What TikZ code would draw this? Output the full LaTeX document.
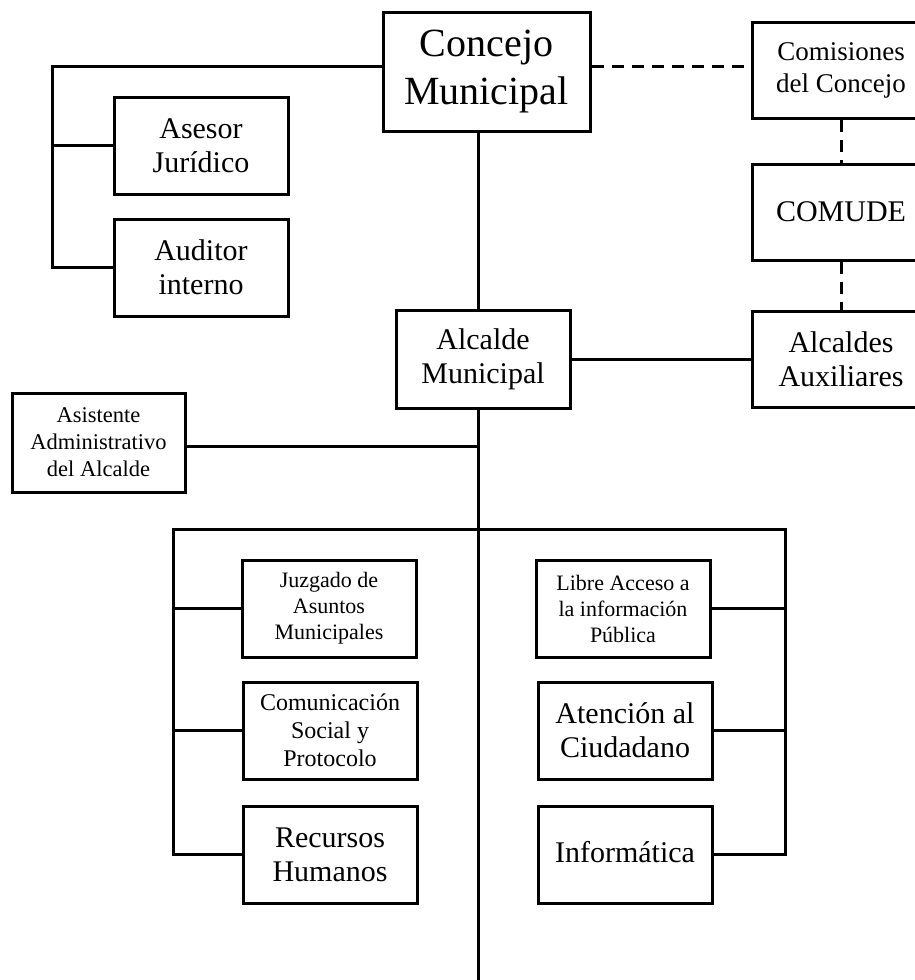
\documentclass[tikz,border=0pt]{standalone}
\usepackage{fontspec}
\setmainfont{Liberation Serif}
\usetikzlibrary{positioning}
\tikzset{orgBox/.style={draw, line width=3pt, fill=white, align=center, inner sep=0pt, minimum width=174pt, minimum height=97pt}}
\tikzset{orgLine/.style={line width=3pt}}
\tikzset{dashLine/.style={line width=3pt, dash pattern=on 12pt off 8pt}}
\tikzset{bigText/.style={font=\fontsize{40}{48}\selectfont}}
\tikzset{midText/.style={font=\fontsize{30}{34}\selectfont}}
\tikzset{smallText/.style={font=\fontsize{24}{28}\selectfont}}
\tikzset{tinyText/.style={font=\fontsize{22}{26}\selectfont}}

\begin{document}
\begin{tikzpicture}[x=1pt, y=-1pt]
\useasboundingbox (0,0) rectangle (915,980);

% Concejo and its advisers
\node[orgBox, bigText, minimum width=207pt, minimum height=119pt] (concejo) at (486.5,71.5) {Concejo\\Municipal};
\node[orgBox, midText] (asesor) at (201,145.5) {Asesor\\Jurídico};
\node[orgBox, midText, below=22pt of asesor] (auditor) {Auditor\\interno};

% Right column
\node[orgBox, font=\fontsize{27}{32}\selectfont, minimum width=178pt, minimum height=96pt] (comisiones) at (841,70) {Comisiones\\del Concejo};
\node[orgBox, midText, minimum width=178pt, minimum height=96pt] (comude) at (841,212) {COMUDE};
\node[orgBox, midText, minimum width=178pt, minimum height=96pt] (auxiliares) at (841,359) {Alcaldes\\Auxiliares};

% Alcalde
\node[orgBox, midText, minimum height=98pt] (alcalde) at (483,359) {Alcalde\\Municipal};
\node[orgBox, font=\fontsize{22.5}{27}\selectfont, minimum width=173pt, minimum height=99pt] (asistente) at (98.5,442.5) {Asistente\\Administrativo\\del Alcalde};

% Dependencies, left
\node[orgBox, tinyText] (juzgado) at (329,608.5) {Juzgado de\\Asuntos\\Municipales};
\node[orgBox, smallText, below=22pt of juzgado.south east, anchor=north east, xshift=1pt] (comunicacion) {Comunicación\\Social y\\Protocolo};
\node[orgBox, midText, below=24pt of comunicacion] (recursos) {Recursos\\Humanos};

% Dependencies, right
\node[orgBox, tinyText] (libre) at (623,608.5) {Libre Acceso a\\la información\\Pública};
\node[orgBox, midText, below=22pt of libre.south east, anchor=north east, xshift=2pt] (atencion) {Atención al\\Ciudadano};
\node[orgBox, midText, below=24pt of atencion] (informatica) {\raisebox{6pt}{Informática}};

\coordinate (railA) at (52,0);
\coordinate (trunkEnd) at (478,980);
\coordinate (barL) at (173,529);
\coordinate (barR) at (785,529);

% connectors
\draw[orgLine] ([yshift=5pt]concejo.west) -| (railA |- auditor.west) -- (auditor.west);
\draw[orgLine] (asesor.west) -- (asesor.west -| railA);
\draw[dashLine] ([yshift=5pt]concejo.east) -- ([yshift=5pt]concejo.east -| comisiones.west);
\draw[dashLine] (comisiones.south) -- (comude.north);
\draw[dashLine] (comude.south) -- (auxiliares.north);
\draw[orgLine] (concejo.south -| trunkEnd) -- (alcalde.north -| trunkEnd);
\draw[orgLine] (alcalde.south -| trunkEnd) -- (trunkEnd);
\draw[orgLine] (alcalde.east) -- (auxiliares.west);
\draw[orgLine] ([yshift=-4pt]asistente.east) -- ([yshift=-4pt]asistente.east -| trunkEnd);
\draw[orgLine] (recursos.west) -| (barL) -- (barR) |- (informatica.east);
\foreach \unit in {juzgado, comunicacion}
  \draw[orgLine] (\unit.west) -- (\unit.west -| barL);
\foreach \unit in {libre, atencion}
  \draw[orgLine] (\unit.east) -- (\unit.east -| barR);

\end{tikzpicture}
\end{document}
